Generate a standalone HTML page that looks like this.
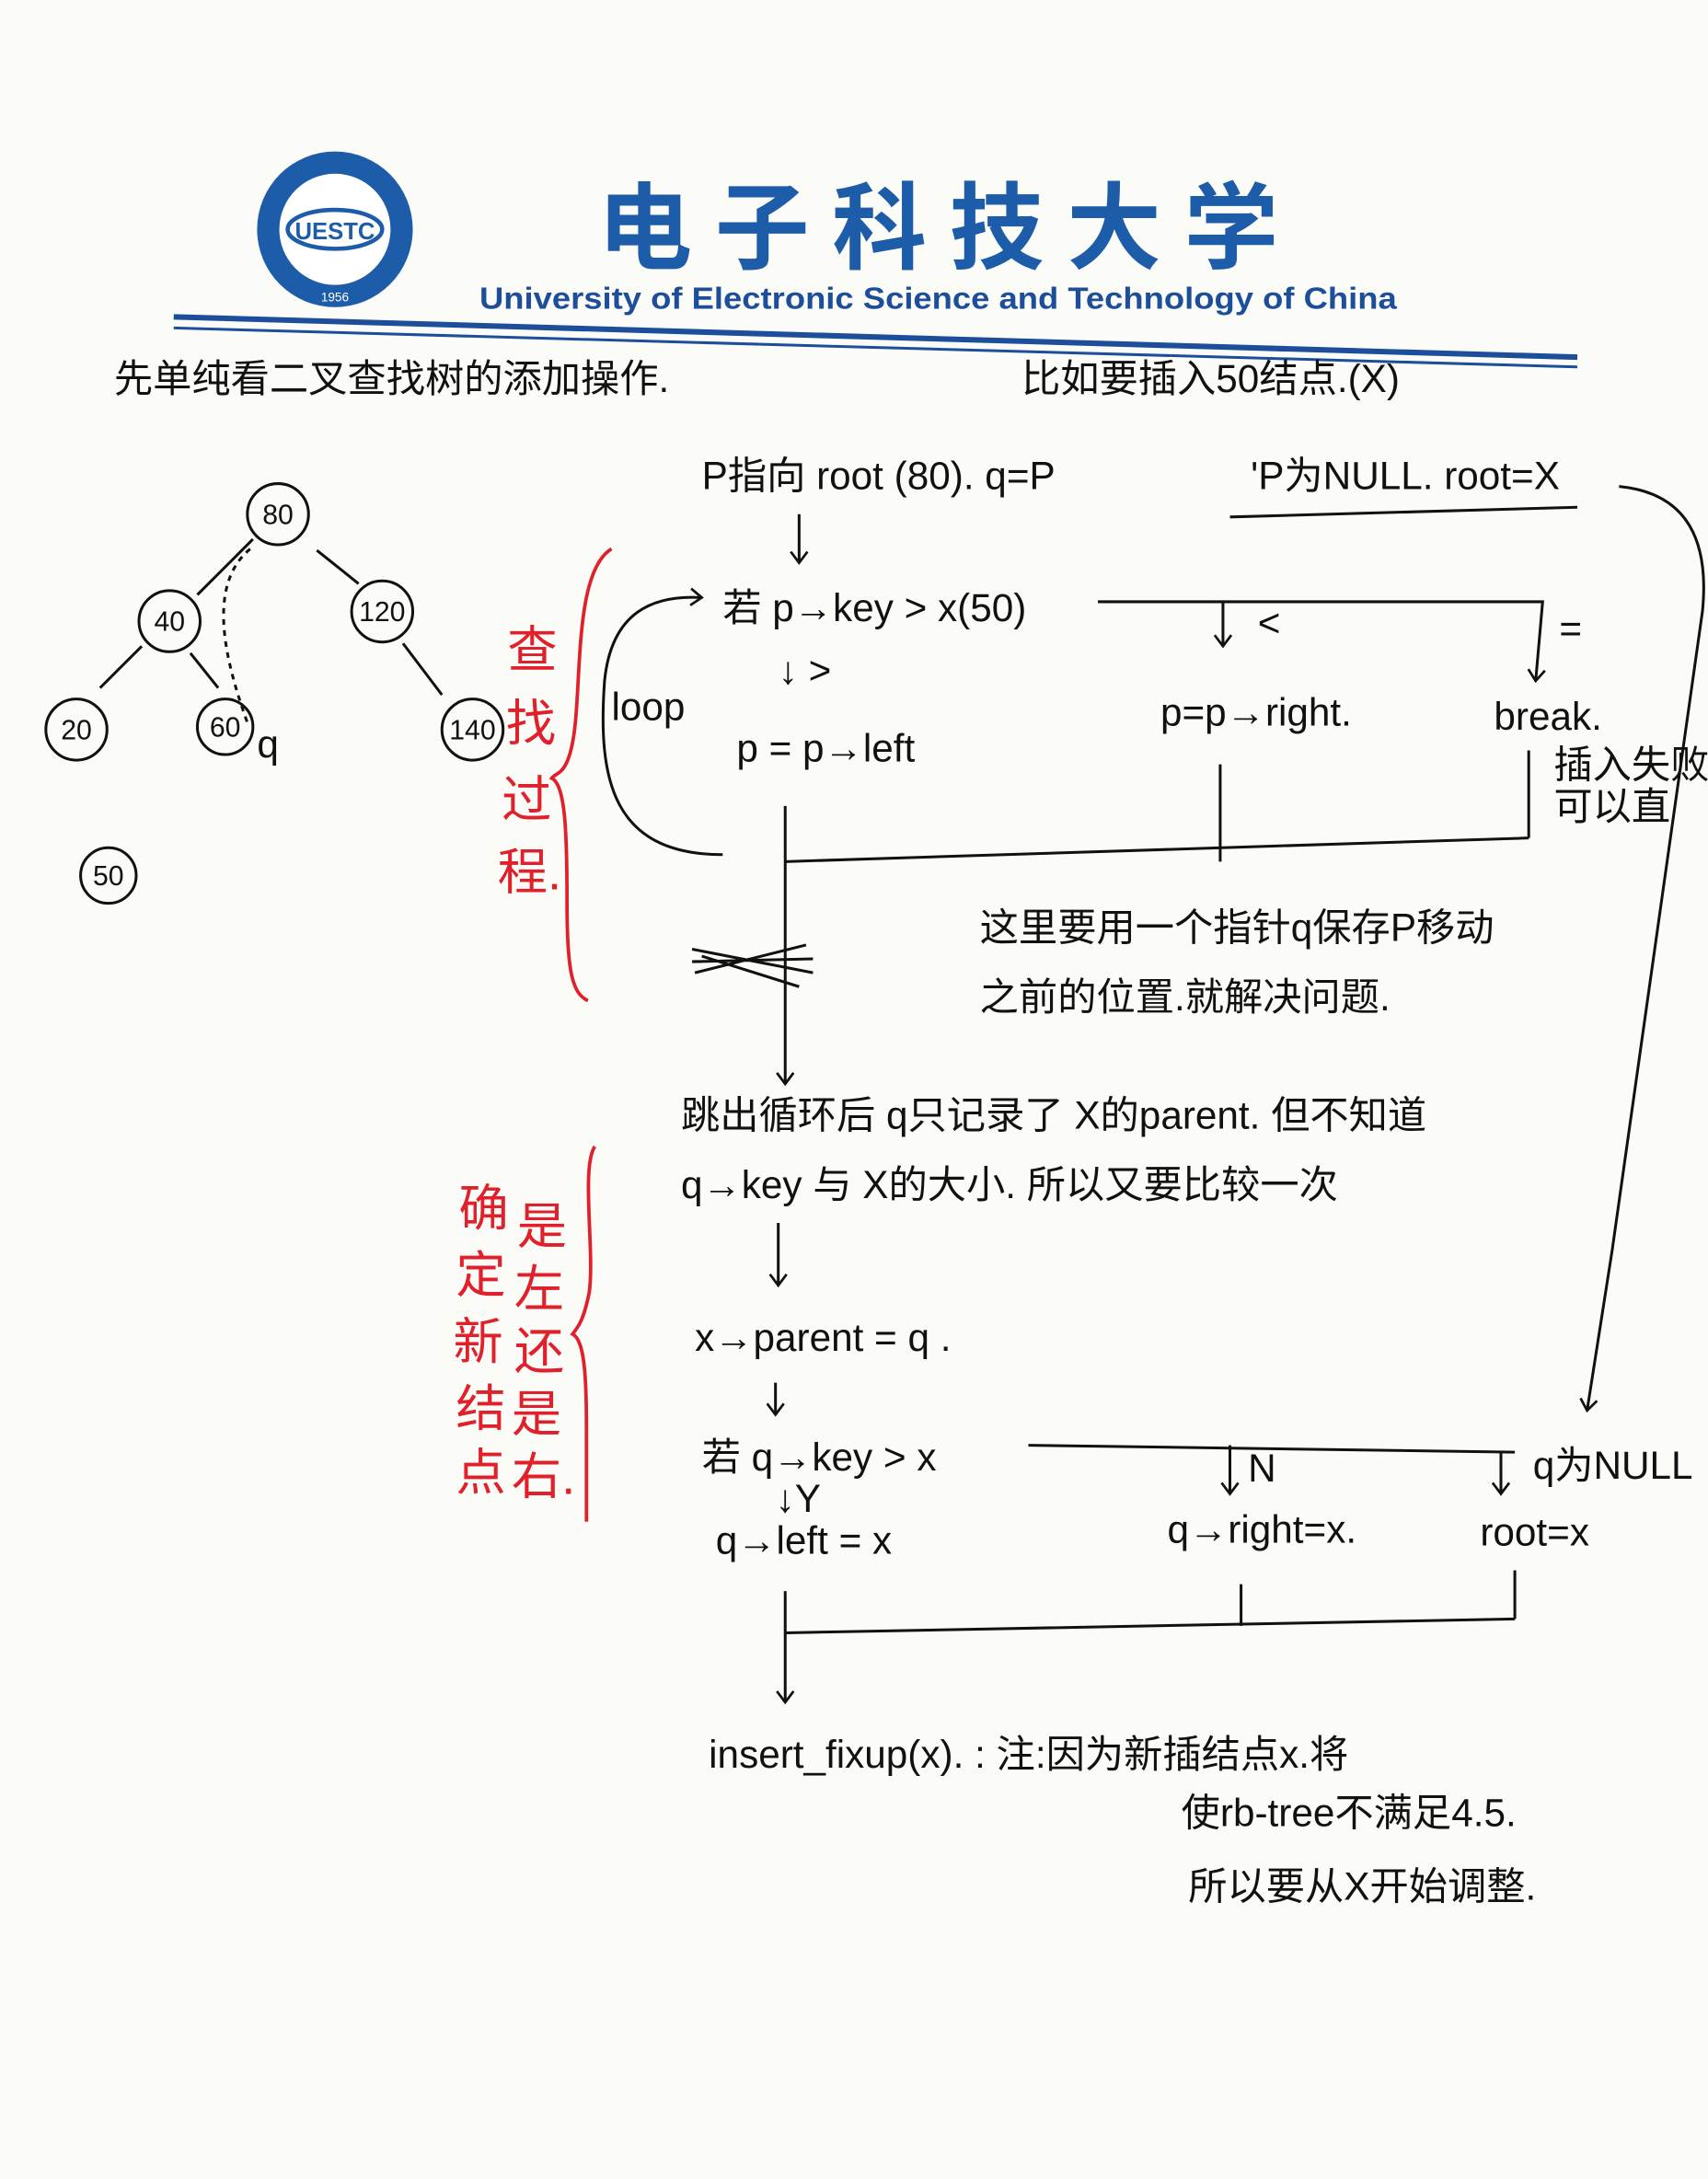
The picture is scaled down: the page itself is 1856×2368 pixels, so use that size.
<!DOCTYPE html>
<html><head><meta charset="utf-8">
<style>
html,body{margin:0;padding:0;background:#fbfbf8;}
svg{display:block;}
text{font-family:"Liberation Sans","Noto Sans CJK SC",sans-serif;}
.h{fill:#111;font-size:28px;}
.r{fill:#e0202a;font-size:36px;}
</style></head><body>
<svg width="1856" height="2368" viewBox="0 0 1229 1568" xmlns="http://www.w3.org/2000/svg">
<rect width="1229" height="1568" fill="#fbfbf8"/>
<defs><marker id="a" markerWidth="14" markerHeight="14" refX="10" refY="7" orient="auto" markerUnits="userSpaceOnUse"><path d="M2,1 L10,7 L2,13" fill="none" stroke="#111" stroke-width="1.8"/></marker></defs>
<!-- header -->
<circle cx="241" cy="165" r="56" fill="#1d5ca8"/>
<circle cx="241" cy="165" r="40" fill="#fff"/>
<ellipse cx="241" cy="165" rx="34" ry="14" fill="none" stroke="#1d5ca8" stroke-width="3"/>
<text x="241" y="172" font-size="17" font-weight="bold" fill="#1d5ca8" text-anchor="middle">UESTC</text>
<text x="241" y="217" font-size="9" fill="#fff" text-anchor="middle">1956</text>
<text x="430" y="188" font-size="68" font-weight="bold" fill="#1d5ca8" font-family="Noto Serif CJK SC, serif" textLength="490" lengthAdjust="spacing">电子科技大学</text>
<text x="345" y="222" font-size="22" font-weight="bold" fill="#1d4e9a" font-family="Liberation Serif, serif" textLength="660" lengthAdjust="spacingAndGlyphs">University of Electronic Science and Technology of China</text>
<path d="M125,228 L1135,257" stroke="#1d4e9a" stroke-width="4"/>
<path d="M125,236 L1135,264" stroke="#1d4e9a" stroke-width="2"/>
<!-- text -->
<text class="h" x="82" y="282" font-size="32">先单纯看二叉查找树的添加操作.</text>
<text class="h" x="735" y="282">比如要插入50结点.(X)</text>
<text class="h" x="505" y="352" font-size="30">P指向 root (80). q=P</text>
<text class="h" x="900" y="352">'P为NULL. root=X</text>
<path d="M885,372 L1135,365" stroke="#111" stroke-width="2" fill="none"/>
<g stroke="#111" stroke-width="2" fill="none">
<path d="M575,370 L575,405" marker-end="url(#a)"/>
<path d="M520,615 C440,615 430,560 435,490 C440,440 470,428 505,430" marker-end="url(#a)"/>
<path d="M790,433 L1110,433 L1105,490" marker-end="url(#a)"/>
<path d="M880,433 L880,465" marker-end="url(#a)"/>
<path d="M878,550 L878,620"/><path d="M1100,540 L1100,603"/>
<path d="M1100,603 L565,620"/>
<path d="M565,580 L565,780" marker-end="url(#a)"/>
<path d="M1165,350 C1215,355 1230,390 1225,440 L1160,900 L1142,1015" marker-end="url(#a)"/>
<path d="M560,880 L560,925" marker-end="url(#a)"/>
<path d="M558,995 L558,1018" marker-end="url(#a)"/>
<path d="M740,1040 L1090,1045"/>
<path d="M885,1040 L885,1075" marker-end="url(#a)"/>
<path d="M1080,1045 L1080,1075" marker-end="url(#a)"/>
<path d="M565,1145 L565,1225" marker-end="url(#a)"/>
<path d="M565,1175 L1090,1165"/>
<path d="M893,1140 L893,1170"/><path d="M1090,1130 L1090,1165"/>
<path d="M498,683 L585,700 M498,692 L585,690 M500,700 L580,680 M505,688 L575,710"/>
</g>
<text class="h" x="440" y="518" font-size="24">loop</text>
<text class="h" x="520" y="447">若 p→key &gt; x(50)</text>
<text class="h" x="905" y="458">&lt;</text>
<text class="h" x="1122" y="462">=</text>
<text class="h" x="560" y="492">↓ &gt;</text>
<text class="h" x="530" y="548" font-size="30">p = p→left</text>
<text class="h" x="835" y="522">p=p→right.</text>
<text class="h" x="1075" y="525" font-size="26">break.</text>
<text class="h" x="1118" y="560" font-size="19">插入失败</text>
<text class="h" x="1118" y="590" font-size="19">可以直</text>
<text class="h" x="705" y="677">这里要用一个指针q保存P移动</text>
<text class="h" x="705" y="727">之前的位置.就解决问题.</text>
<text class="h" x="490" y="812">跳出循环后 q只记录了 X的parent. 但不知道</text>
<text class="h" x="490" y="862" font-size="26">q→key 与 X的大小. 所以又要比较一次</text>
<text class="h" x="500" y="972">x→parent = q .</text>
<text class="h" x="505" y="1058">若 q→key &gt; x</text>
<text class="h" x="558" y="1088" font-size="24">↓Y</text>
<text class="h" x="515" y="1118">q→left = x</text>
<text class="h" x="898" y="1066" font-size="22">N</text>
<text class="h" x="1103" y="1064" font-size="22">q为NULL</text>
<text class="h" x="840" y="1110" font-size="26">q→right=x.</text>
<text class="h" x="1065" y="1112">root=x</text>
<text class="h" x="510" y="1272">insert_fixup(x). : 注:因为新插结点x.将</text>
<text class="h" x="850" y="1314">使rb-tree不满足4.5.</text>
<text class="h" x="855" y="1367">所以要从X开始调整.</text>
<!-- red -->
<path d="M440,395 C415,410 418,480 414,520 C410,560 400,555 397,560 C407,565 408,600 408,650 C408,700 412,715 423,720" stroke="#e0202a" stroke-width="2.5" fill="none"/>
<text class="r" x="365" y="480">查</text><text class="r" x="364" y="533">找</text><text class="r" x="361" y="588">过</text><text class="r" x="358" y="640">程.</text>
<path d="M428,825 C418,840 428,900 424,930 C420,950 416,955 412,960 C422,965 422,1000 422,1040 C422,1080 422,1090 422,1095" stroke="#e0202a" stroke-width="2.5" fill="none"/>
<g>
<text class="r" font-size="34" x="330" y="882">确</text><text class="r" font-size="34" x="328" y="930">定</text><text class="r" font-size="34" x="326" y="978">新</text><text class="r" font-size="34" x="328" y="1026">结</text><text class="r" font-size="34" x="328" y="1072">点</text>
<text class="r" font-size="34" x="372" y="895">是</text><text class="r" font-size="34" x="370" y="940">左</text><text class="r" font-size="34" x="370" y="985">还</text><text class="r" font-size="34" x="368" y="1030">是</text><text class="r" font-size="34" x="368" y="1075">右.</text>
</g>
<!-- tree -->
<g stroke="#111" stroke-width="2" fill="none">
<path d="M182,388 L142,428"/><path d="M228,396 L258,420"/>
<path d="M102,465 L72,495"/><path d="M137,470 L157,495"/>
<path d="M290,463 L318,500"/>
<path d="M180,395 C150,420 160,470 178,520" stroke-dasharray="4,4"/>
<circle cx="200" cy="370" r="22"/><circle cx="122" cy="447" r="22"/><circle cx="275" cy="440" r="22"/>
<circle cx="55" cy="525" r="22"/><circle cx="162" cy="523" r="20"/><circle cx="340" cy="525" r="22"/><circle cx="78" cy="630" r="20"/>
</g>
<g class="h" text-anchor="middle">
<text x="200" y="377" font-size="20">80</text><text x="122" y="454" font-size="20">40</text><text x="275" y="447" font-size="20">120</text>
<text x="55" y="532" font-size="20">20</text><text x="162" y="530" font-size="20">60</text><text x="340" y="532" font-size="20">140</text><text x="78" y="637" font-size="20">50</text>
</g>
<text class="h" x="185" y="545" font-size="20">q</text>
</svg>
</body></html>
